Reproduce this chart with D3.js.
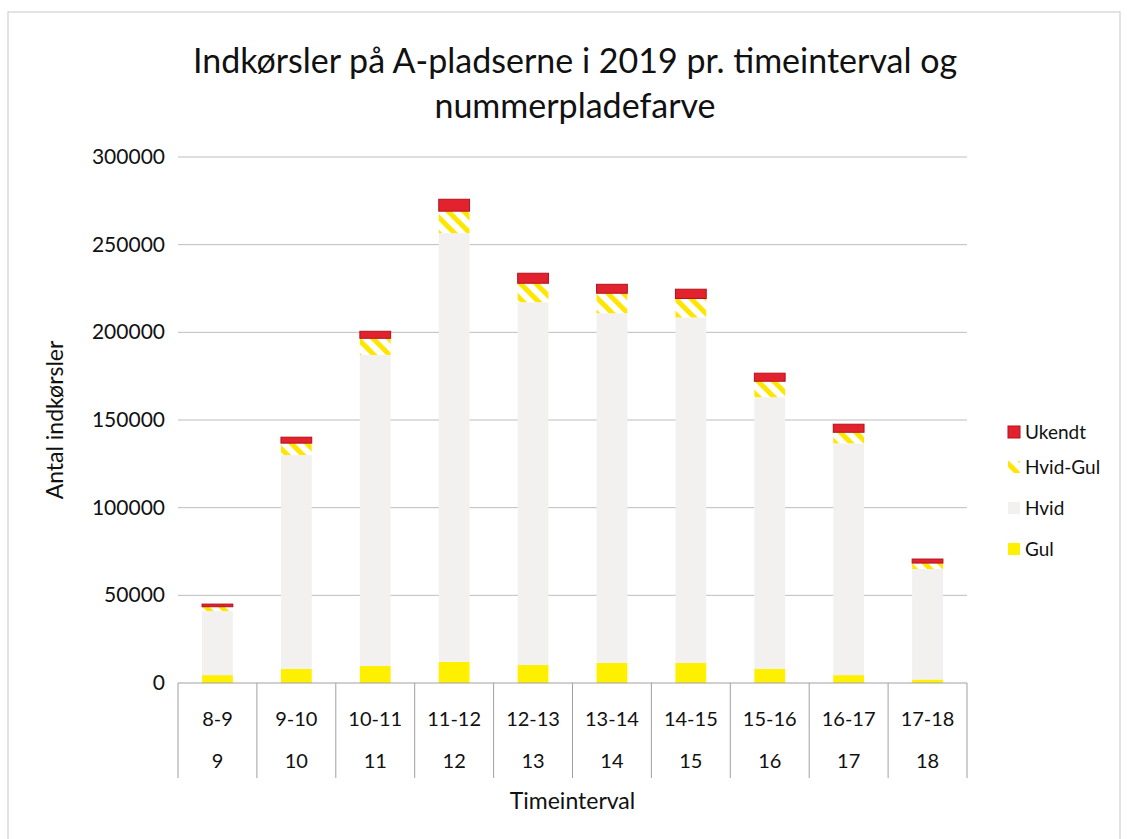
<!DOCTYPE html>
<html>
<head>
<meta charset="utf-8">
<script src="https://cdn.jsdelivr.net/npm/d3@7"></script>
<style>
  body { margin: 0; background: #fff; }
  text { font-family: Lato, "Open Sans", sans-serif; fill: #111; }
</style>
</head>
<body>
<script>
// categories (two-level axis)
var intervals = ["8-9", "9-10", "10-11", "11-12", "12-13", "13-14", "14-15", "15-16", "16-17", "17-18"];
var hours = ["9", "10", "11", "12", "13", "14", "15", "16", "17", "18"];

// series values
var gul      = [4500, 8000, 9700, 12000, 10300, 11400, 11400, 8000, 4500, 2000];
var hvid     = [36500, 122000, 177400, 244600, 206900, 199500, 197100, 155000, 132200, 63000];
var hvidGul  = [2500, 6800, 9500, 12500, 10800, 11400, 10800, 9100, 6300, 3400];
var ukendt   = [1500, 3400, 4000, 6800, 5700, 5100, 5300, 4600, 4600, 2300];

var seriesNames = ["Gul", "Hvid", "Hvid-Gul", "Ukendt"];
var yTicks = [0, 50000, 100000, 150000, 200000, 250000, 300000];

window.onload = function(){
  var w = 1127, h = 839;
  var left = 178, right = 967, top = 157, bottom = 683;

  var svg = d3.select("body").append("svg")
      .attr("width", w)
      .attr("height", h);

  //hatch pattern for Hvid-Gul
  var defs = svg.append("defs");
  var pat = defs.append("pattern")
      .attr("id", "hatch")
      .attr("patternUnits", "userSpaceOnUse")
      .attr("width", 11)
      .attr("height", 11)
      .attr("patternTransform", "rotate(-45)");
  pat.append("rect").attr("width", 11).attr("height", 11).attr("fill", "#fff");
  pat.append("rect").attr("width", 5).attr("height", 11).attr("fill", "#ffe600");

  //chart border
  svg.append("rect")
      .attr("x", 8).attr("y", 12)
      .attr("width", 1112).attr("height", 840)
      .attr("fill", "none")
      .attr("stroke", "#c8c8c8")
      .attr("stroke-width", 1);

  var x = d3.scaleBand().domain(intervals).range([left, right]).padding(0);
  var y = d3.scaleLinear().domain([0, 300000]).range([bottom, top]);

  //gridlines
  svg.append("g").selectAll("line")
      .data(yTicks.slice(1))
      .enter().append("line")
      .attr("x1", left).attr("x2", right)
      .attr("y1", function(d){ return y(d); })
      .attr("y2", function(d){ return y(d); })
      .attr("stroke", "#bdbdbd")
      .attr("stroke-width", 1);

  //y tick labels
  svg.append("g").selectAll("text")
      .data(yTicks)
      .enter().append("text")
      .attr("x", 165)
      .attr("y", function(d){ return y(d) + 7; })
      .attr("text-anchor", "end")
      .style("font-size", "21px")
      .text(function(d){ return d; });

  //stack the data
  var rows = intervals.map(function(c, i){
      return { cat: c, "Gul": gul[i], "Hvid": hvid[i], "Hvid-Gul": hvidGul[i], "Ukendt": ukendt[i] };
  });
  var stack = d3.stack().keys(seriesNames)(rows);

  var fills = { "Gul": "#fff000", "Hvid": "#f3f1ef", "Hvid-Gul": "url(#hatch)", "Ukendt": "#e2222c" };
  var strokes = { "Gul": "none", "Hvid": "none", "Hvid-Gul": "none", "Ukendt": "#b3121c" };
  var barW = x.bandwidth() * 0.39;

  var layers = svg.append("g").selectAll("g")
      .data(stack)
      .enter().append("g")
      .attr("fill", function(d){ return fills[d.key]; })
      .attr("stroke", function(d){ return strokes[d.key]; });

  layers.selectAll("rect")
      .data(function(d){ return d; })
      .enter().append("rect")
      .attr("x", function(d){ return x(d.data.cat) + (x.bandwidth() - barW) / 2; })
      .attr("y", function(d){ return y(d[1]); })
      .attr("width", barW)
      .attr("height", function(d){ return y(d[0]) - y(d[1]); });

  //x axis baseline and category dividers
  svg.append("line")
      .attr("x1", left).attr("x2", right)
      .attr("y1", bottom).attr("y2", bottom)
      .attr("stroke", "#a0a0a0");

  var edges = intervals.map(function(c){ return x(c); }).concat([right]);
  svg.append("g").selectAll("line")
      .data(edges)
      .enter().append("line")
      .attr("x1", function(d){ return d; })
      .attr("x2", function(d){ return d; })
      .attr("y1", bottom).attr("y2", 778)
      .attr("stroke", "#a0a0a0");

  svg.append("g").selectAll("text")
      .data(intervals)
      .enter().append("text")
      .attr("x", function(d){ return x(d) + x.bandwidth() / 2; })
      .attr("y", 726)
      .attr("text-anchor", "middle")
      .style("font-size", "20px")
      .text(function(d){ return d; });

  svg.append("g").selectAll("text")
      .data(hours)
      .enter().append("text")
      .attr("x", function(d, i){ return x(intervals[i]) + x.bandwidth() / 2; })
      .attr("y", 768)
      .attr("text-anchor", "middle")
      .style("font-size", "20px")
      .text(function(d){ return d; });

  //axis titles
  svg.append("text")
      .attr("x", (left + right) / 2)
      .attr("y", 809)
      .attr("text-anchor", "middle")
      .style("font-size", "23px")
      .text("Timeinterval");

  svg.append("text")
      .attr("transform", "translate(63," + (top + bottom) / 2 + ") rotate(-90)")
      .attr("text-anchor", "middle")
      .style("font-size", "23px")
      .text("Antal indkørsler");

  //title
  var title = svg.append("text")
      .attr("text-anchor", "middle")
      .style("font-size", "34px");
  title.append("tspan").attr("x", 575).attr("y", 73)
      .text("Indkørsler på A-pladserne i 2019 pr. timeinterval og");
  title.append("tspan").attr("x", 575).attr("y", 118)
      .text("nummerpladefarve");

  //legend
  var legendY = [432, 467, 508, 549];
  var legendKeys = ["Ukendt", "Hvid-Gul", "Hvid", "Gul"];
  var legend = svg.append("g").selectAll("g")
      .data(legendKeys)
      .enter().append("g")
      .attr("transform", function(d, i){ return "translate(1008," + legendY[i] + ")"; });
  legend.append("rect")
      .attr("x", 0).attr("y", -6)
      .attr("width", 12).attr("height", 12)
      .attr("fill", function(d){ return fills[d]; })
      .attr("stroke", function(d){ return strokes[d]; });
  legend.append("text")
      .attr("x", 17).attr("y", 7)
      .style("font-size", "19px")
      .text(function(d){ return d; });
};
</script>
</body>
</html>
